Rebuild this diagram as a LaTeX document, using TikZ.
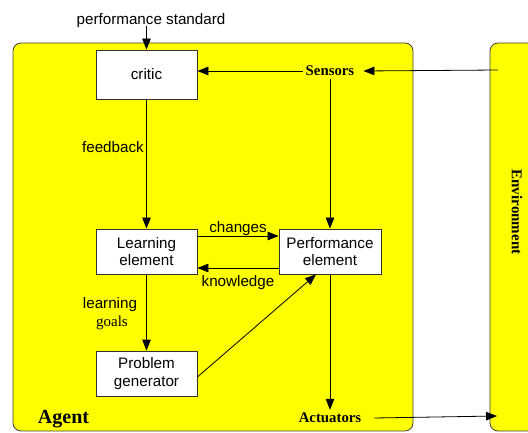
\documentclass[tikz,border=0pt]{standalone}
\usepackage{fontspec}
\setmainfont{Liberation Sans}
\newfontfamily\labelserif{Liberation Serif}
\usetikzlibrary{arrows.meta}
\definecolor{agentyellow}{RGB}{255,255,0}
\begin{document}
\begin{tikzpicture}[x=1pt,y=-1pt,
  every node/.style={font=\fontsize{15.2}{17.5}\selectfont},
  unit/.style={draw=black!80,line width=0.8pt,fill=white,minimum width=101pt,
    minimum height=45pt,align=center,inner sep=0pt},
  port/.style={font=\labelserif\bfseries\fontsize{14.8}{17}\selectfont,inner sep=3pt},
  arr/.style={-{Triangle[length=11pt,width=8.5pt]},line width=0.8pt},
  region/.style={draw=black!75,line width=0.8pt,fill=agentyellow,rounded corners=8pt}]
  \useasboundingbox (0,0) rectangle (528,433);
  % enclosing regions
  \begin{scope}
    \clip (0,0) rectangle (528,433);
    \draw[region] (13,43) rectangle (413,431);
    \draw[region] (490,43) rectangle (560,431);
  \end{scope}
  \node[font=\labelserif\bfseries\fontsize{20}{22}\selectfont] (agent) at (63.5,419) {Agent};
  \node[font=\labelserif\bfseries\fontsize{15}{17}\selectfont,rotate=-90] (env) at (517,212) {Environment};
  % components
  \node[unit,minimum height=49pt] (critic) at (146.5,74.5) {critic};
  \node[unit] (learn) at (146.5,251.5) {Learning\\element};
  \node[unit,minimum width=102pt] (perf) at (330,251.5) {Performance\\element};
  \node[unit] (prob) at (146.5,373.5) {Problem\\generator};
  \node[port] (sens) at (330,71) {Sensors};
  \node[port] (act) at (330,418) {Actuators};
  \node (ps) at (151,21) {performance standard};
  \coordinate (psin) at (146.5,26);
  \coordinate (envin) at (498,70);
  \coordinate (envout) at (497,416);
  % connections
  \draw[arr] (psin) -- (critic.north);
  \draw[arr] (envin) -- ([xshift=6pt]sens.east);
  \draw[arr] (sens.west) -- (critic.east |- sens.west);
  \draw[arr] (sens.south) -- (perf.north);
  \draw[arr] (critic.south) -- node[left=-1pt,pos=0.37] (fb) {feedback} (learn.north);
  \draw[arr] ([yshift=15.5pt]learn.east) -- node[above=-3pt] (chg) {changes} ([yshift=15.5pt]perf.west);
  \draw[arr] ([yshift=-16.5pt]perf.west) -- node[below=4pt] (knw) {knowledge} ([yshift=-16.5pt]learn.east);
  \draw[arr] (learn.south) -- (prob.north);
  \node (lg1) at (110,305) {learning};
  \node[font=\labelserif\fontsize{15}{17}\selectfont] (lg2) at (112,323) {goals};
  \draw[arr] ([yshift=-3.5pt]prob.east) -- ([xshift=-14pt]perf.south);
  \draw[arr] (perf.south) -- (act.north);
  \draw[arr] ([xshift=10pt]act.east) -- (envout);
\end{tikzpicture}
\end{document}
